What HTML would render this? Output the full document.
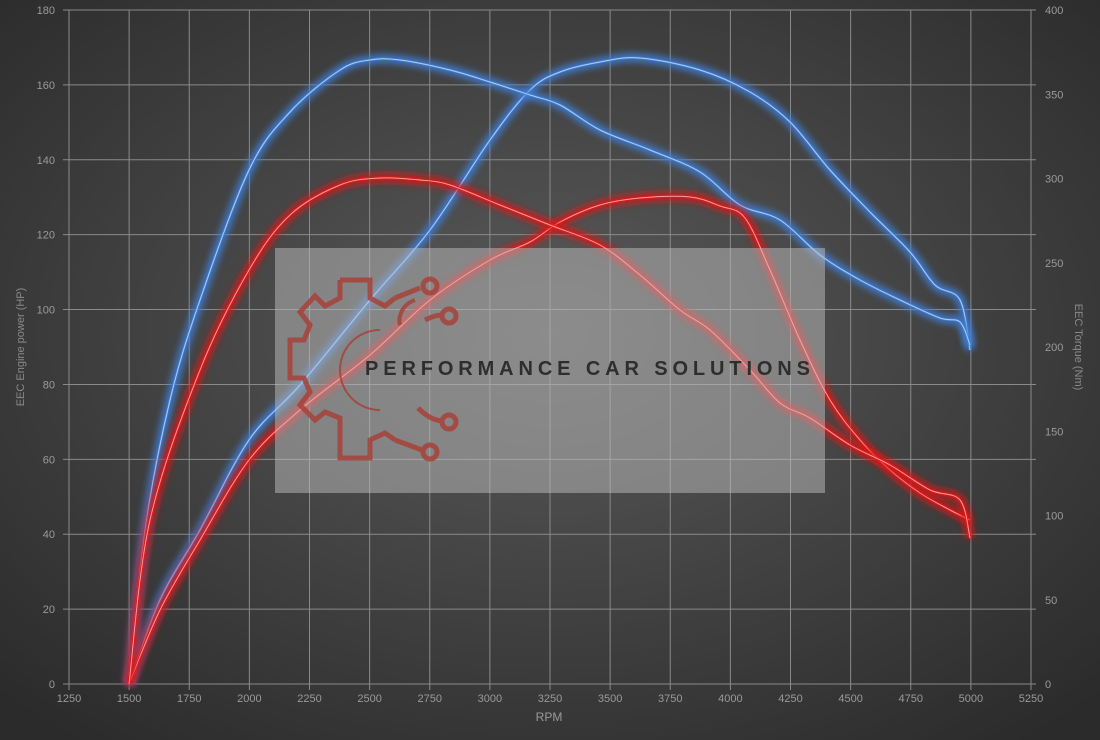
<!DOCTYPE html>
<html><head><style>
html,body{margin:0;padding:0;width:1100px;height:740px;overflow:hidden;background:#333;}
svg{display:block;font-family:"Liberation Sans",sans-serif;}
</style></head><body>
<svg id="s" width="1100" height="740" xmlns="http://www.w3.org/2000/svg">
<defs>
<radialGradient id="bg" cx="50%" cy="45%" r="70%">
<stop offset="0" stop-color="#5a5a5a"/><stop offset="1" stop-color="#2b2b2b"/>
</radialGradient>
<filter id="glow" x="-10%" y="-10%" width="120%" height="120%"><feGaussianBlur stdDeviation="3.5"/></filter>
</defs>
<rect width="1100" height="740" fill="url(#bg)"/>
<g id="grid" stroke="#8a8a8a" stroke-width="1"></g>
<g id="labels" fill="#9a9a9a" font-size="11"></g>
<text x="549" y="721" fill="#9a9a9a" font-size="12" text-anchor="middle">RPM</text>
<text transform="translate(24,347) rotate(-90)" fill="#8a8a8a" font-size="11" text-anchor="middle">EEC Engine power (HP)</text>
<text transform="translate(1075,347) rotate(90)" fill="#8a8a8a" font-size="11" text-anchor="middle">EEC Torque (Nm)</text>
<g id="curves"></g>
<rect x="275" y="248" width="550" height="245" fill="#bdbdbd" fill-opacity="0.5"/>
<g fill="none" stroke="#a8413a" stroke-width="5" opacity="0.85">
<path d="M340 280 L370 280 L370 298 L385 306 L395 298 M340 280 L340 298 L325 306 L315 296 L300 312 L310 325 L304 340 L290 340 L290 378 L304 378 L310 392 L300 405 L315 420 L325 412 L340 418 L340 458 L370 458 L370 440 L385 433 L395 440"/>
<path d="M415 300 C400 305 398 320 400 325" stroke-width="4"/>
<path d="M395 298 L420 288"/><circle cx="430" cy="286" r="7"/>
<path d="M425 320 Q435 315 442 315"/><circle cx="449" cy="316" r="7"/>
<path d="M418 408 Q430 420 442 421"/><circle cx="449" cy="422" r="7"/>
<path d="M395 440 L422 450"/><circle cx="430" cy="452" r="7"/>
<path d="M380 330 A40 40 0 0 0 380 410" stroke-width="2"/>
</g>
<text x="365" y="375" font-size="20" font-weight="bold" fill="#2e2e2e" letter-spacing="5" textLength="450">PERFORMANCE CAR SOLUTIONS</text>
</svg>
<script>
var NS="http://www.w3.org/2000/svg";
function el(p,t,a,txt){var e=document.createElementNS(NS,t);for(var k in a)e.setAttribute(k,a[k]);if(txt!=null)e.textContent=txt;p.appendChild(e);return e;}
var g=document.getElementById('grid'),L=document.getElementById('labels');
function X(r){return 69+(r-1250)*0.2405;}
for(var r=1250;r<=5250;r+=250){var x=X(r);el(g,'line',{x1:x,y1:10,x2:x,y2:690});el(L,'text',{x:x,y:702,'text-anchor':'middle'},r);}
for(var v=0;v<=180;v+=20){var y=684-v*674/180;el(g,'line',{x1:63,y1:y,x2:1036,y2:y});el(L,'text',{x:55,y:y+4,'text-anchor':'end'},v);}
for(var v=0;v<=400;v+=50){var y=684-v*674/400;el(L,'text',{x:1045,y:y+4},v);}
function path(p){var d="M"+p[0][0]+" "+p[0][1];for(var i=0;i<p.length-1;i++){var p0=p[i-1]||p[i],p1=p[i],p2=p[i+1],p3=p[i+2]||p2;
d+=" C"+(p1[0]+(p2[0]-p0[0])/6)+" "+(p1[1]+(p2[1]-p0[1])/6)+" "+(p2[0]-(p3[0]-p1[0])/6)+" "+(p2[1]-(p3[1]-p1[1])/6)+" "+p2[0]+" "+p2[1];}return d;}
var C=document.getElementById('curves');
var blueT=[[129,684],[160,600],[200,530],[249,440],[300,385],[370,300],[430,230],[490,140],[530,90],[560,72],[600,62],[640,58],[700,70],[750,92],[790,122],[830,170],[870,212],[910,252],[935,285],[960,300],[970,350]];
var blueP=[[129,684],[145,530],[170,400],[200,300],[249,170],[290,112],[340,70],[370,60],[400,60],[450,70],[490,82],[530,95],[560,105],[600,130],[650,150],[700,172],[740,205],[780,220],[820,255],[860,280],[900,300],[940,318],[960,322],[970,345]];
var redP=[[129,684],[150,520],[200,370],[249,270],[290,215],[340,185],[380,178],[420,180],[450,185],[500,205],[550,225],[600,245],[640,275],[680,310],[710,330],[750,370],[780,403],[810,418],[850,445],[890,465],[930,490],[960,500],[970,538]];
var redT=[[129,684],[160,610],[200,540],[249,460],[300,410],[370,355],[430,300],[490,260],[530,242],[560,222],[600,205],[640,198],[690,197],[720,206],[745,218],[770,270],[800,340],[830,400],[860,440],[890,470],[920,493],[950,510],[970,520]];
[[blueT,'#3f7fd8','#b0cdf2'],[blueP,'#3f7fd8','#b0cdf2'],[redT,'#e01818','#ff9a9a'],[redP,'#e01818','#ff9a9a']].forEach(function(s){
var d=path(s[0]);
el(C,'path',{d:d,fill:'none',stroke:s[1],'stroke-width':9,filter:'url(#glow)',opacity:0.85});
el(C,'path',{d:d,fill:'none',stroke:s[1],'stroke-width':2.5});
el(C,'path',{d:d,fill:'none',stroke:s[2],'stroke-width':1});
});
</script>
</body></html>
